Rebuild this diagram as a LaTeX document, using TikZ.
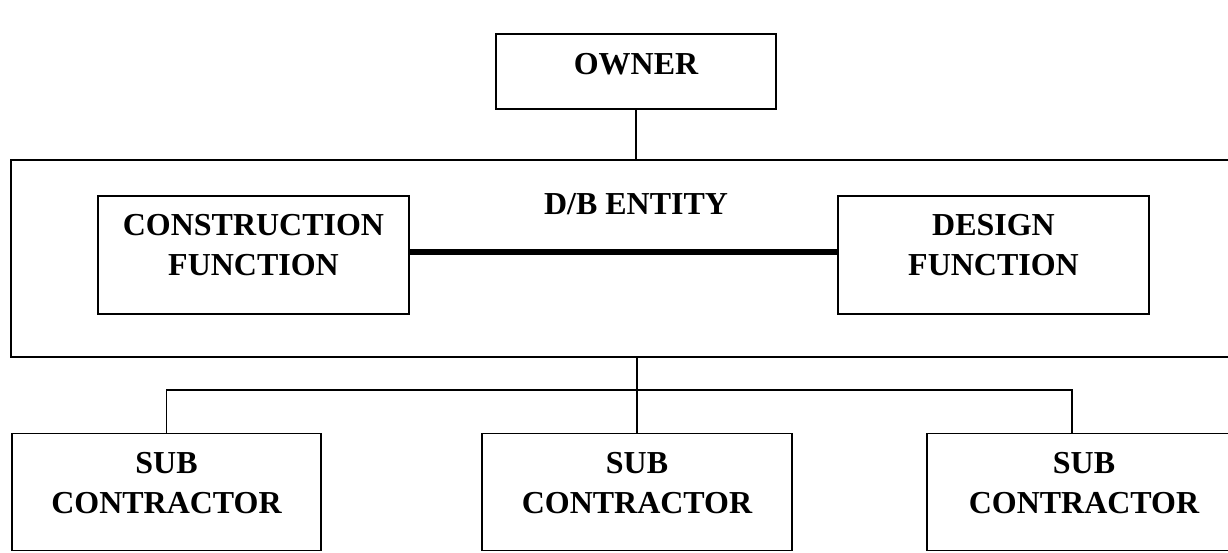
\documentclass[tikz,border=0pt]{standalone}
\usepackage{fontspec}
\setmainfont{Liberation Serif}
\usetikzlibrary{positioning}
\tikzset{
  box/.style={draw, line width=1.1pt, inner sep=0pt},
  lbl/.style={align=center, inner sep=0pt, font=\bfseries\fontsize{18.2}{22.4}\selectfont},
}
\begin{document}
\begin{tikzpicture}[x=0.02cm, y=-0.02cm, line width=1.1pt, line join=miter]
				\clip (0,0) rectangle (1228,552);
				% boxes
				\node [box, minimum width=5.6cm, minimum height=1.5cm] (owner) at (636,71.5) {};
				\node [box, minimum width=24.78cm, minimum height=3.94cm] (db) at (630.5,258.5) {};
				\node [box, minimum width=6.22cm, minimum height=2.36cm] (con) at (253.5,255) {};
				\node [box, minimum width=6.22cm, minimum height=2.36cm] (des) at (993.5,255) {};
				\node [box, minimum width=6.18cm, minimum height=2.34cm] (sub1) at (166.5,492) {};
				\node [box, minimum width=6.2cm, minimum height=2.34cm] (sub2) at (637,492) {};
				\node [box, minimum width=6.28cm, minimum height=2.34cm] (sub3) at (1084,492) {};
				% texts
				\node [lbl] (owner-t) at (636,64) {OWNER};
				\node [lbl] (db-t) at (636,204) {D/B ENTITY};
				\node [lbl] (con-t) at (253.5,245) {CONSTRUCTION\\FUNCTION};
				\node [lbl] (des-t) at (993.5,245) {DESIGN\\FUNCTION};
				\node [lbl] (sub1-t) at (166.5,483) {SUB\\CONTRACTOR};
				\node [lbl] (sub2-t) at (637,483) {SUB\\CONTRACTOR};
				\node [lbl] (sub3-t) at (1084,483) {SUB\\CONTRACTOR};
				% links
				\coordinate (bus) at (636,390);
				\draw (owner.south) -- (owner.south |- db.north);
				\draw [line width=3.4pt] ([yshift=0.06cm]con.east) -- ([yshift=0.06cm]des.west);
				\draw (db.south -| sub2.north) -- (sub2.north);
				\draw (sub1.north) |- (bus) -| ([xshift=-0.24cm]sub3.north);
\end{tikzpicture}
\end{document}
